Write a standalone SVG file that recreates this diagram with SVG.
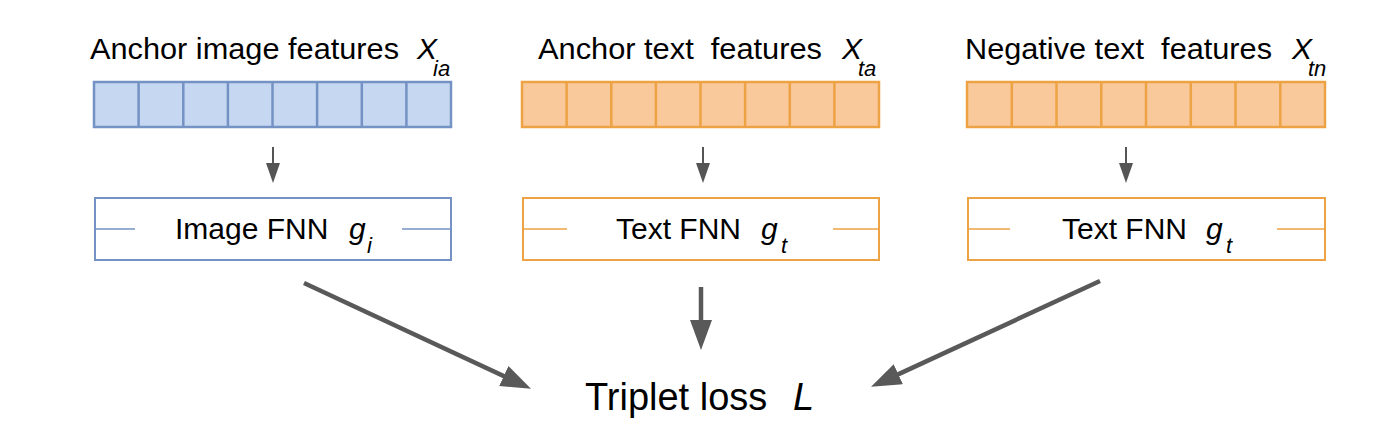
<svg xmlns="http://www.w3.org/2000/svg" width="1400" height="437" viewBox="0 0 1400 437">
<style>
text{font-family:"Liberation Sans",Arial,sans-serif;fill:#000;white-space:pre}
.lbl{font-size:30px}
.it{font-style:italic}
.sub{font-size:22px;font-style:italic}
.blue{fill:#c6d7f1;stroke:#7592c4;stroke-width:2.5}
.orng{fill:#f9c99c;stroke:#eda243;stroke-width:2.5}
.bdiv{stroke:#7592c4;stroke-width:2.5}
.odiv{stroke:#eda243;stroke-width:2.5}
.bbox{fill:#fff;stroke:#7592c4;stroke-width:2}
.obox{fill:#fff;stroke:#eda243;stroke-width:2}
.bl{stroke:#7592c4;stroke-width:1.5}
.ol{stroke:#eda243;stroke-width:1.5}
.sa{stroke:#555;stroke-width:2;fill:none}
.ba{stroke:#595959;stroke-width:4.5;fill:none}
</style>
<defs>
<marker id="sh" markerUnits="userSpaceOnUse" viewBox="0 0 20 14" markerWidth="20" markerHeight="14" refX="8" refY="7" orient="auto">
<path d="M0,0 L20,7 L0,14 Z" fill="#555"/>
</marker>
<marker id="bh" markerUnits="userSpaceOnUse" viewBox="0 0 30 22" markerWidth="30" markerHeight="22" refX="14" refY="11" orient="auto">
<path d="M0,0 L30,11 L0,22 Z" fill="#595959"/>
</marker>
</defs>

<g id="anchor-image-features">
<text class="lbl" x="90" y="59" textLength="309" lengthAdjust="spacingAndGlyphs">Anchor image features</text>
<text class="lbl it" x="417" y="59">X</text>
<text class="sub" x="433" y="76">ia</text>
<rect class="blue" x="94" y="82" width="357" height="45"/>
<path class="bdiv" d="M138.6,82V127M183.3,82V127M227.9,82V127M272.5,82V127M317.1,82V127M361.8,82V127M406.4,82V127"/>
</g>

<g id="anchor-text-features">
<text class="lbl" x="538" y="59" textLength="284" lengthAdjust="spacingAndGlyphs">Anchor text  features</text>
<text class="lbl it" x="842" y="59">X</text>
<text class="sub" x="858" y="76">ta</text>
<rect class="orng" x="522" y="82" width="357" height="45"/>
<path class="odiv" d="M566.6,82V127M611.3,82V127M655.9,82V127M700.5,82V127M745.1,82V127M789.8,82V127M834.4,82V127"/>
</g>

<g id="negative-text-features">
<text class="lbl" x="965" y="59" textLength="307" lengthAdjust="spacingAndGlyphs">Negative text  features</text>
<text class="lbl it" x="1292" y="59">X</text>
<text class="sub" x="1308" y="76">tn</text>
<rect class="orng" x="967" y="82" width="358" height="45"/>
<path class="odiv" d="M1011.8,82V127M1056.5,82V127M1101.3,82V127M1146,82V127M1190.8,82V127M1235.5,82V127M1280.3,82V127"/>
</g>

<g id="image-fnn">
<rect class="bbox" x="95" y="198" width="356" height="62"/>
<path class="bl" d="M95,229H135M402,229H451"/>
<text class="lbl" x="175" y="239">Image FNN</text>
<text class="lbl it" x="349" y="239">g</text>
<text class="sub" x="367" y="253">i</text>
</g>

<g id="text-fnn-anchor">
<rect class="obox" x="523" y="198" width="356" height="62"/>
<path class="ol" d="M523,229H567M833,229H879"/>
<text class="lbl" x="616" y="239">Text FNN</text>
<text class="lbl it" x="761" y="239">g</text>
<text class="sub" x="781" y="253">t</text>
</g>

<g id="text-fnn-negative">
<rect class="obox" x="968" y="198" width="357" height="62"/>
<path class="ol" d="M968,229H1010M1277,229H1325"/>
<text class="lbl" x="1062" y="239">Text FNN</text>
<text class="lbl it" x="1206" y="239">g</text>
<text class="sub" x="1226" y="253">t</text>
</g>

<g id="triplet-loss">
<text x="585" y="410" style="font-size:38px">Triplet loss</text>
<text x="793" y="410" style="font-size:38px;font-style:italic">L</text>
</g>

<g id="connectors">
<line class="sa" x1="273" y1="147" x2="273" y2="171" marker-end="url(#sh)"/>
<line class="sa" x1="703" y1="147" x2="703" y2="171" marker-end="url(#sh)"/>
<line class="sa" x1="1126" y1="147" x2="1126" y2="171" marker-end="url(#sh)"/>
<line class="ba" x1="304" y1="283" x2="516.5" y2="382" marker-end="url(#bh)"/>
<line class="ba" x1="701" y1="287" x2="701" y2="334" marker-end="url(#bh)"/>
<line class="ba" x1="1100" y1="281" x2="885.6" y2="380.1" marker-end="url(#bh)"/>
</g>
</svg>
